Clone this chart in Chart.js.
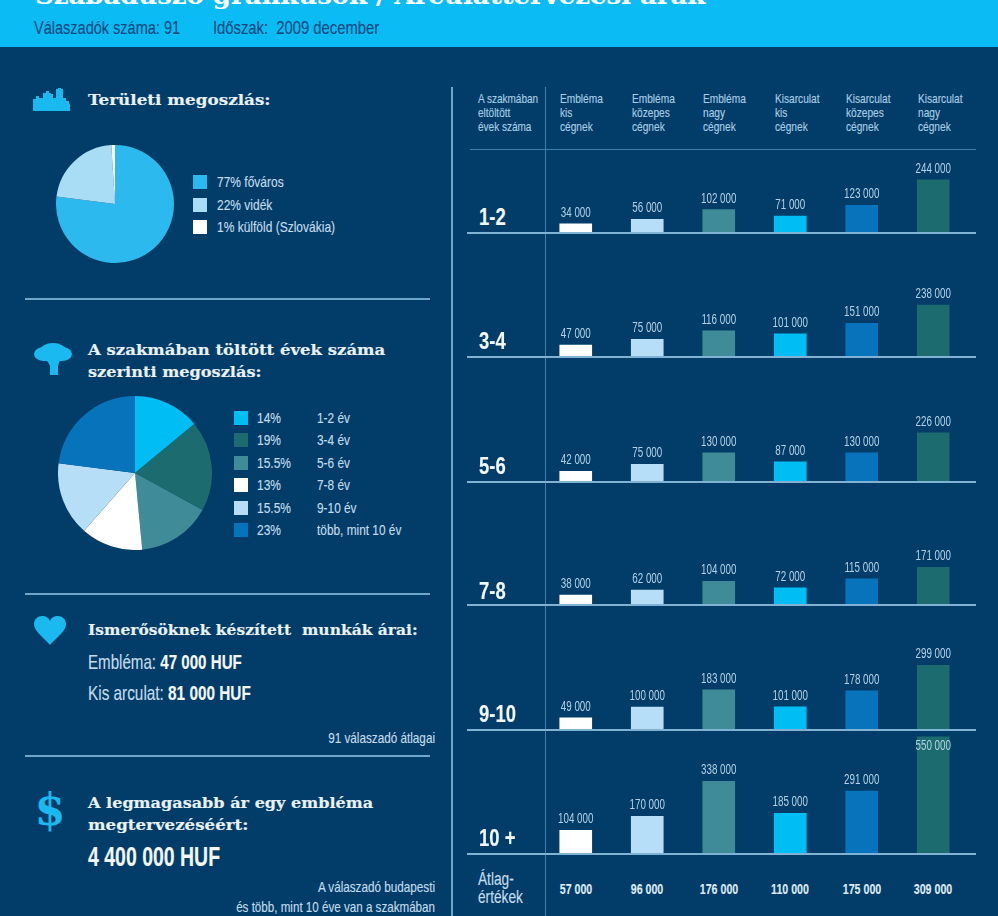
<!DOCTYPE html>
<html lang="hu"><head><meta charset="utf-8">
<script src="https://cdn.jsdelivr.net/npm/chart.js@4"></script>
<style>
html,body{margin:0;padding:0;background:#023c68;}
#page{position:relative;width:998px;height:916px;overflow:hidden;background:#023c68;filter:blur(0.35px);}
.t{position:absolute;white-space:pre;line-height:1;font-family:"Liberation Sans",sans-serif;color:#c4dcec;-webkit-text-stroke:.15px currentColor;}
.h{font-family:"DejaVu Serif",serif;font-weight:bold;color:#e8f2f8;font-size:15.5px;}
.l{position:absolute;background:#6fa6cb;}
.sw{position:absolute;width:14px;height:14px;}
canvas{position:absolute;}
svg{position:absolute;}
</style></head><body><div id="page"></div>
<script>
const columns = ["Embléma kis cégnek","Embléma közepes cégnek","Embléma nagy cégnek","Kisarculat kis cégnek","Kisarculat közepes cégnek","Kisarculat nagy cégnek"];
const columnLines = [["Embléma","kis","cégnek"],["Embléma","közepes","cégnek"],["Embléma","nagy","cégnek"],["Kisarculat","kis","cégnek"],["Kisarculat","közepes","cégnek"],["Kisarculat","nagy","cégnek"]];
const rowLabels = ["1-2","3-4","5-6","7-8","9-10","10 +"];
const years1to2 = [34000,56000,102000,71000,123000,244000];
const years3to4 = [47000,75000,116000,101000,151000,238000];
const years5to6 = [42000,75000,130000,87000,130000,226000];
const years7to8 = [38000,62000,104000,72000,115000,171000];
const years9to10 = [49000,100000,183000,101000,178000,299000];
const years10plus = [104000,170000,338000,185000,291000,550000];
const averages = [57000,96000,176000,110000,175000,309000];
const barColors = ["#ffffff","#b6def6","#3f8b98","#00bdf3","#0673ba","#1c6b6e"];
const regionLabels = ["77% főváros","22% vidék","1% külföld (Szlovákia)"];
const regionValues = [77,22,1];
const regionColors = ["#2bb9ee","#a9dcf5","#ffffff"];
const yearShareLabels = ["1-2 év","3-4 év","5-6 év","7-8 év","9-10 év","több, mint 10 év"];
const yearSharePct = ["14%","19%","15.5%","13%","15.5%","23%"];
const yearShareValues = [14,19,15.5,13,15.5,23];
const yearShareColors = ["#00bdf3","#1c6b6e","#3f8b98","#ffffff","#b6def6","#0673ba"];

const page = document.getElementById('page');
function el(tag,cls,style,html){const e=document.createElement(tag);if(cls)e.className=cls;Object.assign(e.style,style||{});if(html!=null)e.innerHTML=html;page.appendChild(e);return e;}
// x,y is the anchor; align l/r/c; sx squeezes horizontally (condensed look), w fits to a target width
function txt(x,y,s,size,o){o=o||{};const e=el('div','t '+(o.cls||''),{left:x+'px',top:(y-0.8)+'px'});
  if(size)e.style.fontSize=size+'px';
  if(o.html)e.innerHTML=o.html;else e.textContent=s;
  if(o.color)e.style.color=o.color;if(o.bold)e.style.fontWeight='bold';if(o.font)e.style.fontFamily=o.font;
  let sx=o.sx||1;if(o.w)sx=o.w/e.offsetWidth;
  const a=o.align||'l';
  const tx=a=='r'?'-100%':a=='c'?'-50%':'0';
  e.style.transformOrigin=(a=='r'?'100%':a=='c'?'50%':'0')+' 50%';
  e.style.transform=`translate(${tx},-50%) scaleX(${sx})`;
  return e;}
function rule(x,y,w,h,color){const e=el('div','l',{left:x+'px',top:y+'px',width:w+'px',height:h+'px'});if(color)e.style.background=color;return e;}
function svg(x,y,w,h,inner){const d=document.createElement('div');d.innerHTML=`<svg xmlns="http://www.w3.org/2000/svg" width="${w}" height="${h}" viewBox="0 0 ${w} ${h}" style="left:${x}px;top:${y}px">${inner}</svg>`;page.appendChild(d.firstChild);}

// header
el('div','',{position:'absolute',left:0,top:0,width:'998px',height:'47px',background:'#0abcf3'});
txt(35,-3,"Szabadúszó grafikusok / Arculattervezési árak",24,{cls:'h',color:'#ffffff',w:670});
txt(34,29,"Válaszadók száma: 91",18,{color:'#0b4a82',w:146});
txt(213,29,"Időszak:  2009 december",18,{color:'#0b4a82',w:166});

// left column
const ICON='#1ab9ef';
svg(33,88,44,23,`<path fill="${ICON}" d="M0 23V11h3V8h3v2h4V5h3V3h3v2h2v1h2v4h3V1h2V0h3v1h2v9h3v3h3v3h1v7z"/>`);
txt(88,101,"Területi megoszlás:",0,{cls:'h',w:183});
regionLabels.forEach((s,i)=>{const y=[182,205,227][i];el('div','sw',{left:'192.5px',top:(y-7)+'px',background:regionColors[i]});txt(217,y,s,15,{sx:.8});});
rule(25,298,405,2);

svg(34,343,38,33,`<g fill="${ICON}"><ellipse cx="10" cy="11" rx="10" ry="7"/><ellipse cx="28" cy="11" rx="10" ry="7"/><ellipse cx="19" cy="8" rx="13" ry="8"/><ellipse cx="19" cy="14" rx="13" ry="5"/><path d="M13 17h13l-2 6v9h-8v-9z"/></g>`);
txt(88,351,"A szakmában töltött évek száma",0,{cls:'h',w:297});
txt(88,373,"szerinti megoszlás:",0,{cls:'h',w:174});
yearShareLabels.forEach((s,i)=>{const y=[417.5,440,463,485,507.5,530][i];el('div','sw',{left:'233.5px',top:(y-7)+'px',background:yearShareColors[i]});txt(257,y,yearSharePct[i],15,{sx:.8});txt(317,y,s,15,{sx:.79});});
rule(25,593,405,2);

svg(34,616,32,30,`<path fill="${ICON}" d="M16 29C8 20 0 15 0 8c0-5 4-8 8-8 4 0 7 2 8 5 1-3 4-5 8-5 4 0 8 3 8 8 0 7-8 12-16 21z"/>`);
txt(88,631,"Ismerősöknek készített  munkák árai:",0,{cls:'h',w:330});
txt(88,662,"",21,{sx:.72,html:'Embléma: <b style="color:#f2f7fb">47 000 HUF</b>'});
txt(88,693,"",21,{sx:.73,html:'Kis arculat: <b style="color:#f2f7fb">81 000 HUF</b>'});
txt(435,738,"91 válaszadó átlagai",15,{align:'r',w:107});
rule(25,755,405,2);

txt(50,811,"$",44,{align:'c',bold:true,color:ICON,font:'"DejaVu Serif",serif'});
txt(88,804,"A legmagasabb ár egy embléma",0,{cls:'h',w:285});
txt(88,826,"megtervezéséért:",0,{cls:'h',w:160});
txt(88,858,"4 400 000 HUF",27,{bold:true,color:'#f2f7fb',w:132});
txt(435,887,"A válaszadó budapesti",15,{align:'r',w:117});
txt(435,907,"és több, mint 10 éve van a szakmában",15,{align:'r',w:199});

// right column frame
rule(451,87,2,829,'#6fa6cb');
rule(545,87,1,829,'#3f7fa8');
rule(470,149,506,1,'#3f7fa8');
["A szakmában","eltöltött","évek száma"].forEach((s,i)=>txt(478,98.5+i*14.3,s,13,{color:'#a9cde4',sx:.77}));
const headerX=[560,631.5,703,774.5,846,918];
columnLines.forEach((lines,c)=>lines.forEach((s,i)=>txt(headerX[c],98.5+i*14.3,s,13,{color:'#a9cde4',sx:.78})));
txt(478,880,"Átlag-",18,{sx:.76});
txt(478,898,"értékek",18,{sx:.76});

function fmt(v){return String(v).replace(/\B(?=(\d{3})+$)/g,' ');}
const valueLabels={id:'valueLabels',afterDatasetsDraw(chart){
  const ctx=chart.ctx,meta=chart.getDatasetMeta(0);
  meta.data.forEach((b,i)=>{ctx.save();ctx.font='14px "Liberation Sans",sans-serif';ctx.fillStyle='#b4d2e6';ctx.textAlign='center';ctx.textBaseline='middle';
    ctx.translate(b.x,Math.max(b.y-11,17));ctx.scale(.7,1);ctx.fillText(fmt(chart.data.datasets[0].data[i]),0,0);ctx.restore();});
  }};
const baselines=[233,357,482,605,730,854];
const rows=[years1to2,years3to4,years5to6,years7to8,years9to10,years10plus];
const ROW_H=125, SCALE_MIN=-9500, SCALE_MAX=587750;
let lastChart=null;
rows.forEach((vals,r)=>{
  const base=baselines[r];
  const cv=el('canvas','',{left:'540px',top:(base-ROW_H)+'px'});cv.width=429;cv.height=ROW_H;
  lastChart=new Chart(cv,{type:'bar',plugins:[valueLabels],data:{labels:columns,datasets:[{data:vals,base:SCALE_MIN,backgroundColor:barColors,barThickness:32,borderWidth:0}]},
   options:{responsive:false,animation:false,layout:{padding:0},plugins:{legend:{display:false},tooltip:{enabled:false}},
    scales:{x:{display:false},y:{display:false,min:SCALE_MIN,max:SCALE_MAX}}}});
  rule(467,base-1,509,2,'#7fb2d3');
  txt(479,base-(r==3?13:15),rowLabels[r],24,{bold:true,color:'#f2f7fb',sx:.77});
});
lastChart.getDatasetMeta(0).data.forEach((b,i)=>txt(540+b.x,890,fmt(averages[i]),14,{align:'c',bold:true,color:'#dcebf5',sx:.76}));

function pie(left,top,size,values,colors){
  const cv=el('canvas','',{left:left+'px',top:top+'px'});cv.width=size;cv.height=size;
  new Chart(cv,{type:'pie',data:{labels:values.map(String),datasets:[{data:values,backgroundColor:colors,borderWidth:0}]},
    options:{responsive:false,animation:false,layout:{padding:0},plugins:{legend:{display:false},tooltip:{enabled:false}}}});
}
pie(56,145,118,regionValues,regionColors);
pie(58,396,154,yearShareValues,yearShareColors);
</script></body></html>
